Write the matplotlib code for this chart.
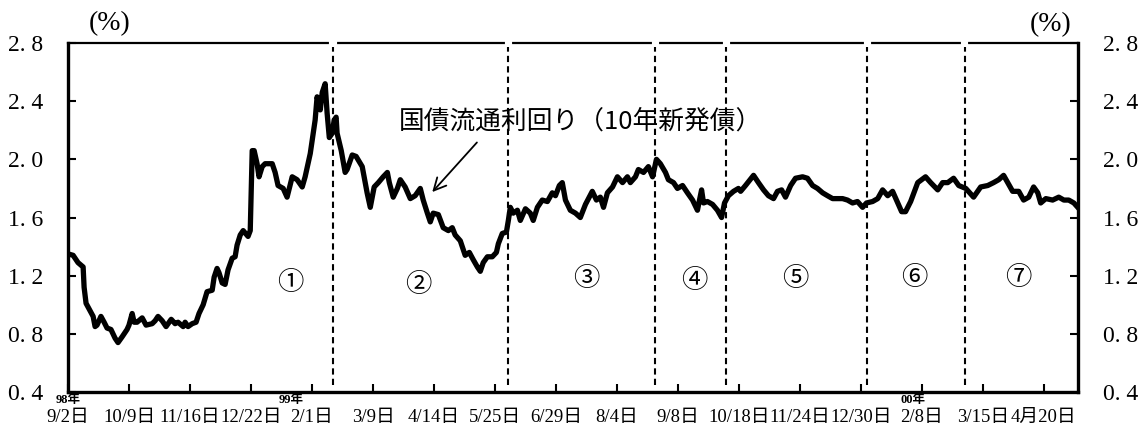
import numpy as np
import matplotlib
matplotlib.use("Agg")
import matplotlib.pyplot as plt

plt.rcParams['font.family'] = ['Liberation Serif', 'Noto Sans CJK JP', 'DejaVu Sans']

# business-day index since 98/9/2 and 10y JGB yield (%)
days = [0.0, 2.1, 4.1, 6.2, 6.6, 7.4, 9.0, 10.3, 11.1, 11.9, 13.5, 14.8, 16.0, 17.6,
        19.3, 20.5, 22.2, 24.2, 25.0, 26.3, 27.1, 28.3, 30.4, 32.0, 34.5, 35.7, 36.9,
        38.6, 40.2, 42.3, 43.9, 45.1, 47.2, 48.0, 49.2, 50.9, 52.5, 53.7, 55.4, 57.0,
        59.1, 59.9, 61.1, 61.9, 63.2, 64.4, 65.6, 67.3, 68.5, 69.3, 70.6, 71.8, 73.8,
        74.7, 75.5, 76.3, 77.5, 78.3, 79.6, 80.8, 83.7, 84.9, 86.1, 88.2, 89.8, 91.9,
        93.9, 96.0, 97.2, 99.3, 101.3, 102.1, 103.4, 104.2, 105.4, 106.2, 107.1, 108.3,
        109.1, 109.9, 110.3, 112.0, 113.6, 114.4, 116.5, 118.1, 120.6, 122.6, 123.9,
        125.5, 127.2, 129.2, 130.9, 131.7, 133.3, 135.0, 136.2, 138.2, 140.3, 142.3,
        144.4, 145.6, 147.3, 148.5, 149.7, 151.8, 153.8, 155.9, 157.5, 158.7, 160.8,
        162.8, 164.5, 166.1, 167.8, 169.0, 170.2, 171.9, 173.9, 175.6, 176.4, 178.0,
        179.7, 180.5, 181.3, 182.5, 184.2, 185.4, 187.5, 189.5, 190.7, 192.4, 194.4,
        196.5, 198.5, 199.8, 201.4, 202.6, 203.9, 205.9, 208.0, 210.0, 212.1, 214.9,
        216.6, 218.2, 219.5, 221.1, 223.2, 225.2, 227.3, 229.3, 230.5, 232.6, 233.8,
        235.9, 237.9, 239.6, 241.2, 242.8, 244.9, 246.1, 248.2, 249.8, 251.9, 253.9,
        256.0, 258.0, 259.7, 260.5, 262.1, 264.2, 266.2, 267.9, 269.1, 270.7, 272.8,
        274.8, 275.7, 277.7, 281.0, 283.0, 285.1, 287.1, 289.2, 290.8, 292.5, 294.1,
        296.2, 298.2, 301.1, 303.1, 305.2, 307.2, 309.3, 311.3, 313.4, 315.4, 317.5,
        319.5, 321.6, 323.6, 325.7, 327.3, 329.8, 331.9, 333.9, 336.0, 338.0, 340.1,
        341.7, 343.3, 345.4, 348.3, 351.5, 353.6, 356.5, 358.5, 360.6, 363.0, 365.1,
        368.0, 371.2, 374.1, 377.0, 379.4, 381.5, 383.5, 385.2, 387.2, 389.7, 391.7,
        393.8, 395.8, 397.5, 398.7, 400.8, 403.6, 406.1, 408.2, 410.2, 412.3, 413.9]
yields = [1.35, 1.34, 1.29, 1.26, 1.12, 1.01, 0.96, 0.92, 0.85, 0.86, 0.92, 0.88, 0.84, 0.83,
          0.77, 0.74, 0.78, 0.83, 0.86, 0.94, 0.88, 0.88, 0.91, 0.86, 0.87, 0.89, 0.92,
          0.89, 0.85, 0.90, 0.87, 0.88, 0.85, 0.88, 0.85, 0.87, 0.88, 0.94, 1.00, 1.09,
          1.10, 1.19, 1.25, 1.22, 1.15, 1.14, 1.24, 1.32, 1.33, 1.41, 1.48, 1.51, 1.47,
          1.51, 2.06, 2.06, 1.97, 1.88, 1.95, 1.97, 1.97, 1.91, 1.82, 1.80, 1.74, 1.88,
          1.86, 1.81, 1.88, 2.04, 2.27, 2.43, 2.34, 2.46, 2.52, 2.32, 2.15, 2.18,
          2.27, 2.29, 2.18, 2.06, 1.91, 1.93, 2.03, 2.02, 1.95, 1.77, 1.67,
          1.81, 1.84, 1.88, 1.91, 1.84, 1.74, 1.80, 1.86, 1.81, 1.73, 1.75,
          1.80, 1.72, 1.63, 1.57, 1.63, 1.62, 1.53, 1.51, 1.53, 1.48, 1.44,
          1.34, 1.36, 1.31, 1.26, 1.23, 1.29, 1.33, 1.33, 1.36, 1.42, 1.49,
          1.50, 1.58, 1.67, 1.63, 1.65, 1.58, 1.66, 1.63, 1.58, 1.67, 1.72,
          1.71, 1.77, 1.75, 1.82, 1.84, 1.72, 1.65, 1.63, 1.60, 1.69, 1.78,
          1.72, 1.74, 1.67, 1.77, 1.81, 1.88, 1.84, 1.88, 1.84, 1.88, 1.93,
          1.91, 1.95, 1.88, 2.00, 1.97, 1.91, 1.86, 1.84, 1.80, 1.82, 1.77,
          1.72, 1.65, 1.79, 1.70, 1.71, 1.69, 1.65, 1.60, 1.70, 1.75, 1.78,
          1.80, 1.78, 1.82, 1.89, 1.84, 1.79, 1.75, 1.73, 1.78, 1.79, 1.74,
          1.82, 1.87, 1.88, 1.87, 1.82, 1.80, 1.77, 1.75, 1.73, 1.73, 1.73,
          1.72, 1.70, 1.71, 1.67, 1.70, 1.71, 1.73, 1.79, 1.75, 1.78, 1.70,
          1.64, 1.64, 1.71, 1.84, 1.88, 1.84, 1.79, 1.84, 1.84, 1.87, 1.82,
          1.80, 1.74, 1.81, 1.82, 1.84, 1.86, 1.89, 1.84, 1.78, 1.78, 1.72,
          1.74, 1.81, 1.77, 1.70, 1.73, 1.72, 1.74, 1.72, 1.72, 1.70, 1.67]

tick_days = [0, 25, 50, 75, 100, 125, 150, 175, 200, 225, 250, 275, 300, 325, 350, 375, 400]
tick_labels = ['9/2日', '10/9日', '11/16日', '12/22日', '2/1日', '3/9日', '4/14日', '5/25日',
               '6/29日', '8/4日', '9/8日', '10/18日', '11/24日', '12/30日', '2/8日', '3/15日',
               '4月20日']
year_labels = ['98年', '99年', '00年']
year_days = [0, 91.5, 346.5]

period_bounds = [108.7, 180.5, 240.8, 269.9, 327.7, 367.5]
period_labels = ['①', '②', '③', '④', '⑤', '⑥', '⑦']
period_days = [91, 143.6, 212.5, 256.8, 298.2, 347, 389.7]
period_level = [1.15, 1.14, 1.18, 1.17, 1.18, 1.19, 1.19]

yticks = [0.4, 0.8, 1.2, 1.6, 2.0, 2.4, 2.8]

fig = plt.figure(figsize=(11.41, 4.25), dpi=100)
ax = fig.add_axes([0.0596, 0.0776, 0.8852, 0.8212])

ax.plot(days, yields, color='black', lw=3.8, solid_joinstyle='round')

for b in period_bounds:
    ax.axvline(b, ymin=0.02, ymax=0.99, color='black', lw=1.5, linestyle=(0, (3, 2)))
    # small break in the top frame where each period line meets it
    ax.plot([b - 0.7, b + 0.7], [2.8, 2.8], color='white', lw=3, clip_on=False, zorder=5)

for d, lab, lv in zip(period_days, period_labels, period_level):
    ax.text(d, lv, lab, ha='center', va='center', fontsize=19, family=['Noto Sans CJK JP'])

ax.annotate('国債流通利回り（10年新発債）', xy=(149.3, 1.775), xytext=(210, 2.26),
            ha='center', va='center', fontsize=18.5, family=['Noto Sans CJK JP'],
            arrowprops=dict(arrowstyle='->', color='black', lw=1.3, relpos=(0.235, 0.0),
                            mutation_scale=22, shrinkA=5, shrinkB=0))

ax.set_xlim(0, 414)
ax.set_ylim(0.4, 2.8)

ax.set_xticks(tick_days)
ax.set_xticklabels(tick_labels, fontsize=13.5)
ax.set_yticks(yticks)
ax.set_yticklabels([f'{v:.1f}'.replace('.', '. ') for v in yticks], fontsize=17)
ax.tick_params(axis='x', direction='in', length=6, width=1.5, pad=12)
ax.tick_params(axis='y', direction='in', length=6, width=1.5, pad=18,
               left=True, right=True, labelleft=True, labelright=True)

for d, lab in zip(year_days, year_labels):
    ax.text(d, -0.024, lab, transform=ax.get_xaxis_transform(), ha='center', va='center',
            fontsize=9, fontweight='bold')

ax.text(0.041, 1.055, '(%)', transform=ax.transAxes, ha='center', va='center', fontsize=20)
ax.text(0.973, 1.052, '(%)', transform=ax.transAxes, ha='center', va='center', fontsize=20)

for side in ['left', 'bottom', 'right']:
    ax.spines[side].set_linewidth(2.4)
ax.spines['top'].set_linewidth(1.6)

fig.savefig('out.png', dpi=100, facecolor='white')
